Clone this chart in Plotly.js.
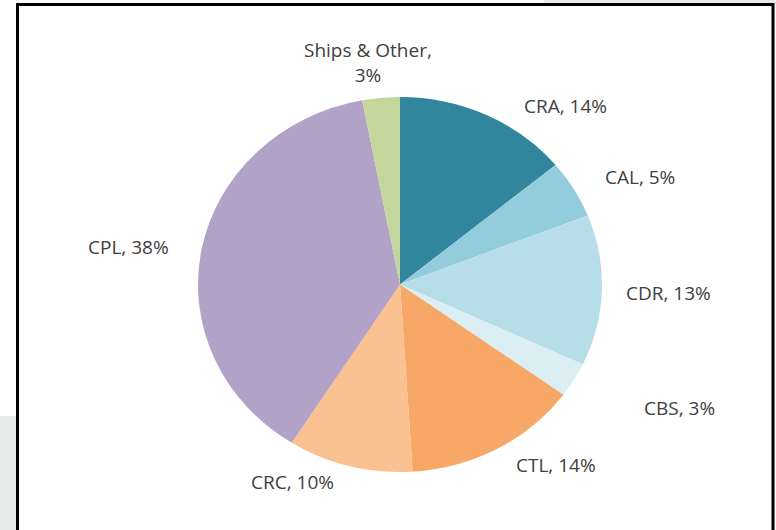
<!DOCTYPE html>
<html>
<head>
<meta charset="utf-8">
<script src="https://cdn.plot.ly/plotly-3.0.1.min.js"></script>
<style>
  html, body { margin: 0; padding: 0; background: #ffffff; }
  #chart { width: 776px; height: 530px; }
  /* the reference pie is slightly wider than tall */
  #chart .pielayer { transform-box: view-box; transform-origin: 400px 284.5px; transform: scaleX(1.0773); }
</style>
</head>
<body>
<div id="chart"></div>
<script>
// ---- data ----
var categories = ["CRA", "CAL", "CDR", "CBS", "CTL", "CRC", "CPL", "Ships & Other"];
var shares = [14, 5, 13, 3, 14, 10, 38, 3];
var labelTexts = ["CRA, 14%", "CAL, 5%", "CDR, 13%", "CBS, 3%", "CTL, 14%", "CRC, 10%", "CPL, 38%", "Ships & Other,<br>3%"];

// ---- styling / layout ----
var colors = ["#31859c", "#93cddd", "#b7dee8", "#daeef3", "#f7a867", "#fac191", "#b3a2c7", "#c3d69b"];
var W = 776, H = 530;
var cx = 400, cy = 284.5, R = 187.5;
// label centres (pixels), Excel "best fit" placement
var labelPx = [[565, 106], [640, 177], [668, 293], [679, 408], [556, 465], [292, 482], [128, 247], [368, 63]];

function px2x(x) { return x / W; }
function px2y(y) { return 1 - y / H; }

var trace = {
  type: "pie",
  labels: categories,
  values: shares,
  sort: false,
  direction: "clockwise",
  rotation: 0,
  marker: { colors: colors, line: { width: 0 } },
  textinfo: "none",
  hoverinfo: "label+percent",
  domain: { x: [px2x(cx - R), px2x(cx + R)], y: [px2y(cy + R), px2y(cy - R)] },
  showlegend: false
};

var annotations = labelTexts.map(function (t, i) {
  return {
    text: t, xref: "paper", yref: "paper",
    x: px2x(labelPx[i][0]), y: px2y(labelPx[i][1]),
    xanchor: "center", yanchor: "middle", align: "center",
    showarrow: false,
    font: { family: "Open Sans, sans-serif", size: 19, color: "#404040" }
  };
});

var shapes = [
  { type: "rect", xref: "paper", yref: "paper", layer: "below",
    x0: px2x(544), x1: 1, y0: px2y(4), y1: 1, fillcolor: "#e8e9e9", line: { width: 0 } },
  { type: "rect", xref: "paper", yref: "paper", layer: "below",
    x0: 0, x1: px2x(16), y0: 0, y1: px2y(416), fillcolor: "#e8e9e9", line: { width: 0 } },
  { type: "rect", xref: "paper", yref: "paper", layer: "above",
    x0: px2x(17.5), x1: px2x(773), y0: px2y(545), y1: px2y(4.5),
    fillcolor: "rgba(0,0,0,0)", line: { color: "#000000", width: 3 } }
];

var layout = {
  width: W, height: H,
  margin: { l: 0, r: 0, t: 0, b: 0 },
  paper_bgcolor: "#ffffff",
  plot_bgcolor: "#ffffff",
  showlegend: false,
  annotations: annotations,
  shapes: shapes
};

Plotly.newPlot("chart", [trace], layout, { displayModeBar: false, staticPlot: true });
</script>
</body>
</html>
